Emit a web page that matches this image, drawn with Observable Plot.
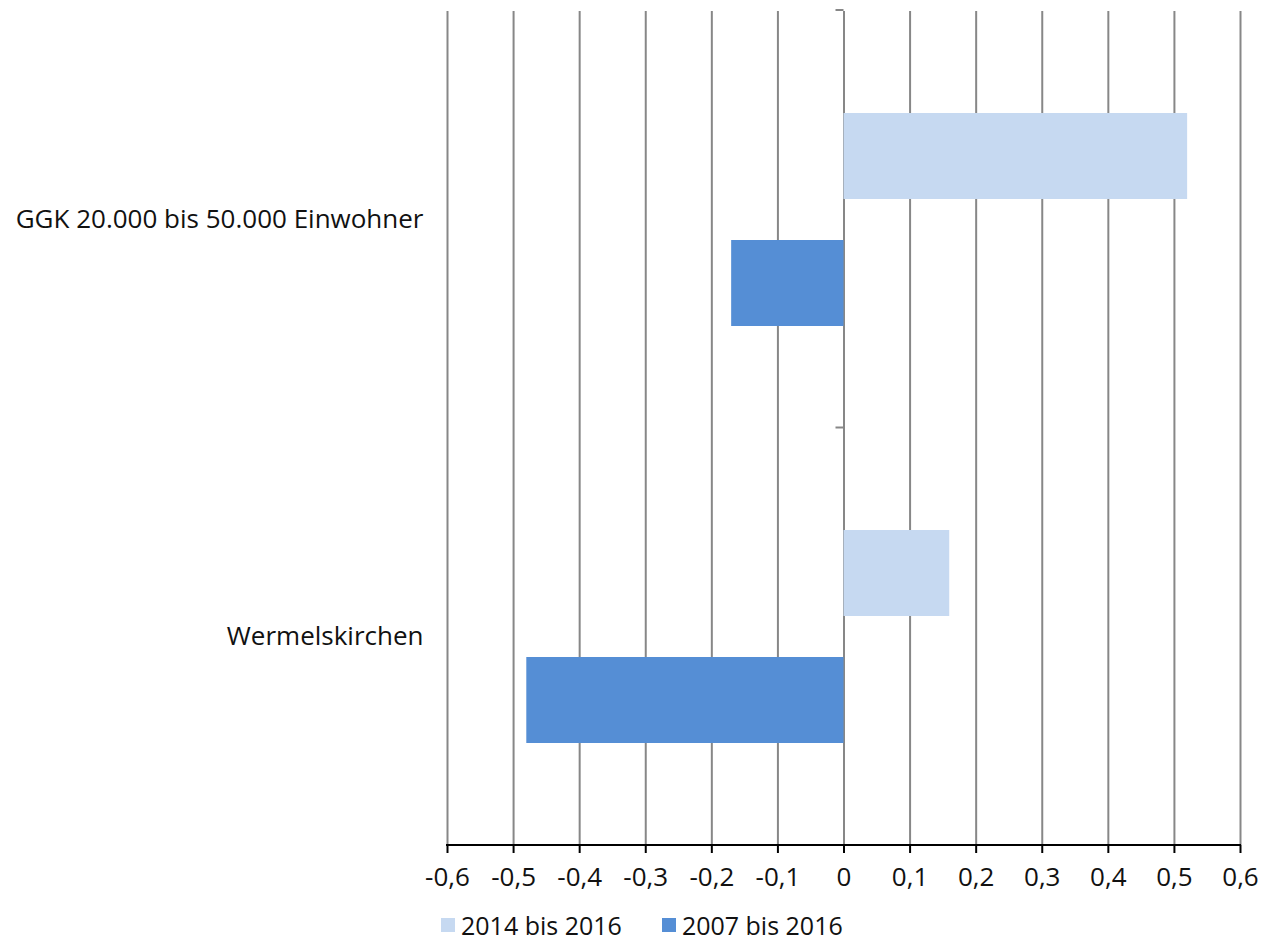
<!DOCTYPE html>
<html>
<head>
<meta charset="utf-8">
<script src="https://cdn.jsdelivr.net/npm/d3@7"></script>
<script src="https://cdn.jsdelivr.net/npm/@observablehq/plot@0.6"></script>
<style>
  html, body { margin: 0; padding: 0; background: #fff; }
  body { width: 1261px; height: 944px; position: relative; overflow: hidden; font-family: "Open Sans", sans-serif; }
  #legend { position: absolute; left: 441px; top: 912px; display: flex; align-items: center; font-size: 25px; line-height: 26px; color: #111; }
  .item { display: flex; align-items: center; margin-right: 40px; }
  .sw { width: 14px; height: 14px; margin-right: 6px; }
</style>
</head>
<body>
<div id="chart"></div>
<div id="legend"></div>
<script>
const categories = ["GGK 20.000 bis 50.000 Einwohner", "Wermelskirchen"];
const series = ["2014 bis 2016", "2007 bis 2016"];
const values2014 = [0.52, 0.16];
const values2007 = [-0.17, -0.48];
const colors = ["#c6d9f1", "#558ed5"];
const xTicks = [-0.6, -0.5, -0.4, -0.3, -0.2, -0.1, 0, 0.1, 0.2, 0.3, 0.4, 0.5, 0.6];

const data = [];
categories.forEach((c, i) => {
  data.push({category: c, series: series[0], value: values2014[i]});
  data.push({category: c, series: series[1], value: values2007[i]});
});

const fmt = d => d === 0 ? "0" : d.toFixed(1).replace(".", ",");

const W = 1261, H = 905, mL = 447, mR = 21, mT = 10, mB = 60;

const plot = Plot.plot({
  width: W,
  height: H,
  marginLeft: mL,
  marginRight: mR,
  marginTop: mT,
  marginBottom: mB,
  style: {fontFamily: "Open Sans, sans-serif", fontSize: "26px", color: "#111", background: "#fff"},
  x: {domain: [-0.6, 0.6], ticks: xTicks, label: null},
  y: {domain: series, paddingInner: 0.323, paddingOuter: 0.795, axis: null, label: null},
  fy: {domain: categories, padding: 0, axis: null, label: null},
  color: {domain: series, range: colors},
  marks: [
    Plot.ruleX(xTicks, {stroke: "#878787", strokeWidth: 2}),
    Plot.barX(data, {fy: "category", y: "series", x: "value", fill: "series"}),
    Plot.axisFy({anchor: "left", tickSize: 0, tickPadding: 24, fontSize: 26, fill: "#111", label: null}),
    Plot.axisX({ticks: xTicks, tickFormat: fmt, tickSize: 8, tickPadding: 14, stroke: "#000", strokeWidth: 2, fill: "#111", fontSize: 26, label: null})
  ]
});

const svg = d3.select(plot);
const xs = plot.scale("x");
const x0 = xs.apply(0);
const bottom = H - mB;
// zero-line category ticks
const facetH = (H - mT - mB) / categories.length;
const tickYs = d3.range(categories.length + 1).map(i => mT + i * facetH);
svg.append("g").selectAll("line").data(tickYs).join("line")
  .attr("x1", x0 - 8).attr("x2", x0).attr("y1", d => d).attr("y2", d => d)
  .attr("stroke", "#878787").attr("stroke-width", 2);
// bottom axis baseline
svg.append("line")
  .attr("x1", xs.apply(-0.6) - 1).attr("x2", xs.apply(0.6) + 1)
  .attr("y1", bottom).attr("y2", bottom)
  .attr("stroke", "#000").attr("stroke-width", 2);

document.getElementById("chart").appendChild(plot);

const legend = d3.select("#legend");
series.forEach((s, i) => {
  const it = legend.append("div").attr("class", "item");
  it.append("div").attr("class", "sw").style("background", colors[i]);
  it.append("span").text(s);
});
</script>
</body>
</html>
